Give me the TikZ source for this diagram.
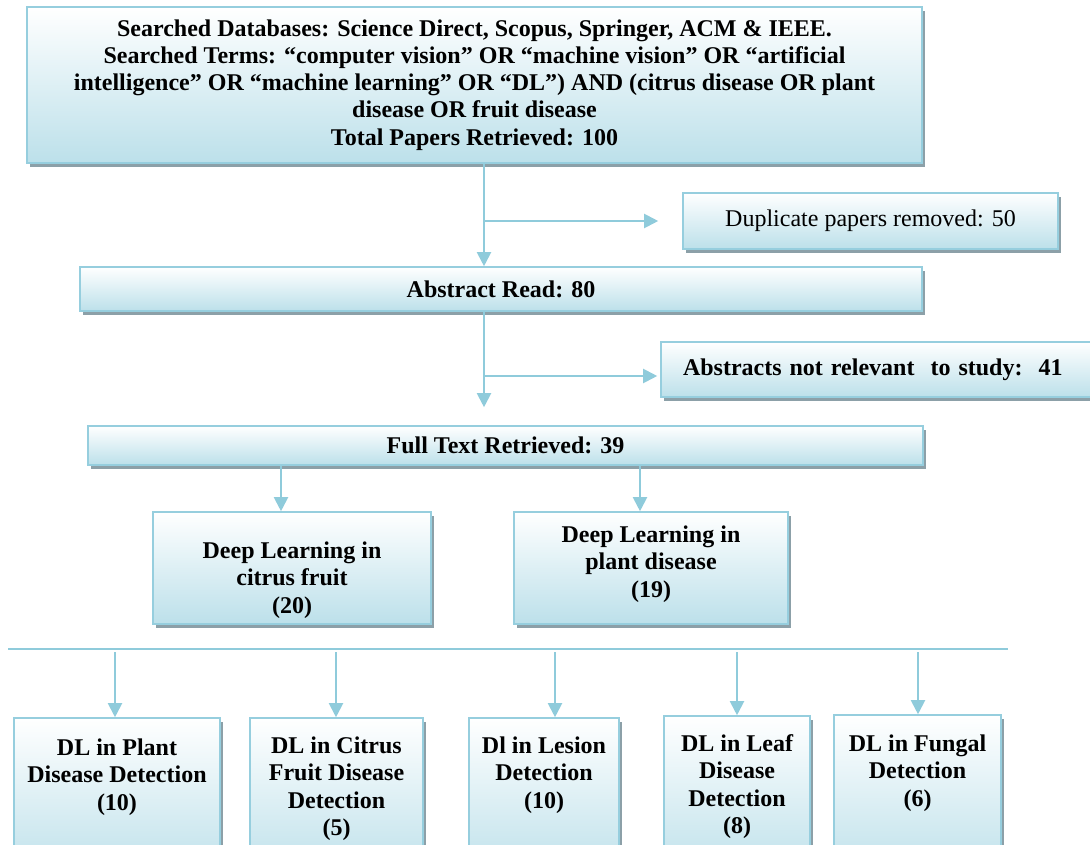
\documentclass[tikz,border=0pt]{standalone}
\usepackage{fontspec}
\setmainfont{Liberation Serif}
\usetikzlibrary{arrows.meta,shadows}
\definecolor{bord}{RGB}{150,206,222}
\definecolor{arr}{RGB}{143,203,219}
\definecolor{fillbot}{RGB}{188,224,234}
\definecolor{shad}{RGB}{140,160,168}
\begin{document}
\begin{tikzpicture}[x=1pt,y=-1pt,
  box/.style={draw=bord, line width=1.6pt, top color=white, bottom color=fillbot,
    inner sep=0pt, align=center, font=\bfseries\fontsize{24}{27.2}\selectfont,
    drop shadow={shadow xshift=3pt, shadow yshift=-4pt, fill=shad, opacity=1}},
  plainbox/.style={box, font=\fontsize{24}{27.2}\selectfont},
  txt/.style={inner sep=0pt, align=center, font=\bfseries\fontsize{24}{27.5}\selectfont},
  conn/.style={draw=arr, line width=2pt},
  arrow/.style={conn, -{Triangle[length=14pt,width=14pt]}}
]
\useasboundingbox (0,0) rectangle (1090,845);
\clip (0,0) rectangle (1090,845);
\fill[white] (0,0) rectangle (1090,845);

% main flow
\node[box, minimum width=895, minimum height=156] (top) at (474.5,85)
  {Searched Databases: Science Direct, Scopus, Springer, ACM \& IEEE.\\
   Searched Terms: “computer vision” OR “machine vision” OR “artificial\\
   intelligence” OR “machine learning” OR “DL”) AND (citrus disease OR plant\\
   disease OR fruit disease\\
   Total Papers Retrieved: 100};
\node[plainbox, minimum width=375, minimum height=56] (dup) at (870.5,221)
  {Duplicate papers removed: 50};
\node[box, minimum width=842, minimum height=44] (abs) at (501,289)
  {Abstract Read: 80};
\node[box, minimum width=434, minimum height=55, text width=390, align=left] (notrel) at (878,369.5)
  {Abstracts not relevant\ \ to study:\ \ 41};
\node[box, minimum width=835, minimum height=39] (full) at (505.5,445.5)
  {Full Text Retrieved: 39};
\node[box, minimum width=278, minimum height=112,
  label={[txt,yshift=-12pt]center:Deep Learning in\\citrus fruit\\(20)}] (citrus) at (292,568) {};
\node[box, minimum width=274, minimum height=112,
  label={[txt,yshift=4pt]center:Deep Learning in\\plant disease\\(19)}] (plant) at (651,568) {};

% bottom row (boxes run past the lower edge)
\node[box, minimum width=206, minimum height=162,
  label={[txt,anchor=north,yshift=-21pt]north:DL in Plant\\Disease Detection\\(10)}] (b1) at (117,799) {};
\node[box, minimum width=173, minimum height=162,
  label={[txt,anchor=north,yshift=-19pt]north:DL in Citrus\\Fruit Disease\\Detection\\(5)}] (b2) at (336.5,799) {};
\node[box, minimum width=150, minimum height=162,
  label={[txt,anchor=north,yshift=-19pt]north:Dl in Lesion\\Detection\\(10)}] (b3) at (544,799) {};
\node[box, minimum width=146, minimum height=164,
  label={[txt,anchor=north,yshift=-19pt]north:DL in Leaf\\Disease\\Detection\\(8)}] (b4) at (737,798) {};
\node[box, minimum width=167, minimum height=166,
  label={[txt,anchor=north,yshift=-20pt]north:DL in Fungal\\Detection\\(6)}] (b5) at (917.5,798) {};

% connectors
\coordinate (c1) at (484,0);
\coordinate (j2) at (484,376);
\coordinate (f1) at (281,0);
\coordinate (f2) at (640,0);
\draw[arrow] (top.south -| c1) -- (abs.north -| c1);
\draw[arrow, shorten >=24pt] (c1 |- dup.west) -- (dup.west);
\draw[arrow, shorten >=18pt] (abs.south -| c1) -- (full.north -| c1);
\draw[arrow, shorten >=3pt] (j2) -- (j2 -| notrel.west);
\draw[arrow] (full.south -| f1) -- (citrus.north -| f1);
\draw[arrow] (full.south -| f2) -- (plant.north -| f2);

\coordinate (hl) at (8,649);
\coordinate (hr) at (1008,649);
\draw[conn] (hl) -- (hr);
\coordinate (h1) at (115,652);
\coordinate (h2) at (336,652);
\coordinate (h3) at (555,652);
\coordinate (h4) at (737,652);
\coordinate (h5) at (918,652);
\draw[arrow] (h1) -- (h1 |- b1.north);
\draw[arrow] (h2) -- (h2 |- b2.north);
\draw[arrow] (h3) -- (h3 |- b3.north);
\draw[arrow] (h4) -- (h4 |- b4.north);
\draw[arrow] (h5) -- (h5 |- b5.north);
\end{tikzpicture}
\end{document}
